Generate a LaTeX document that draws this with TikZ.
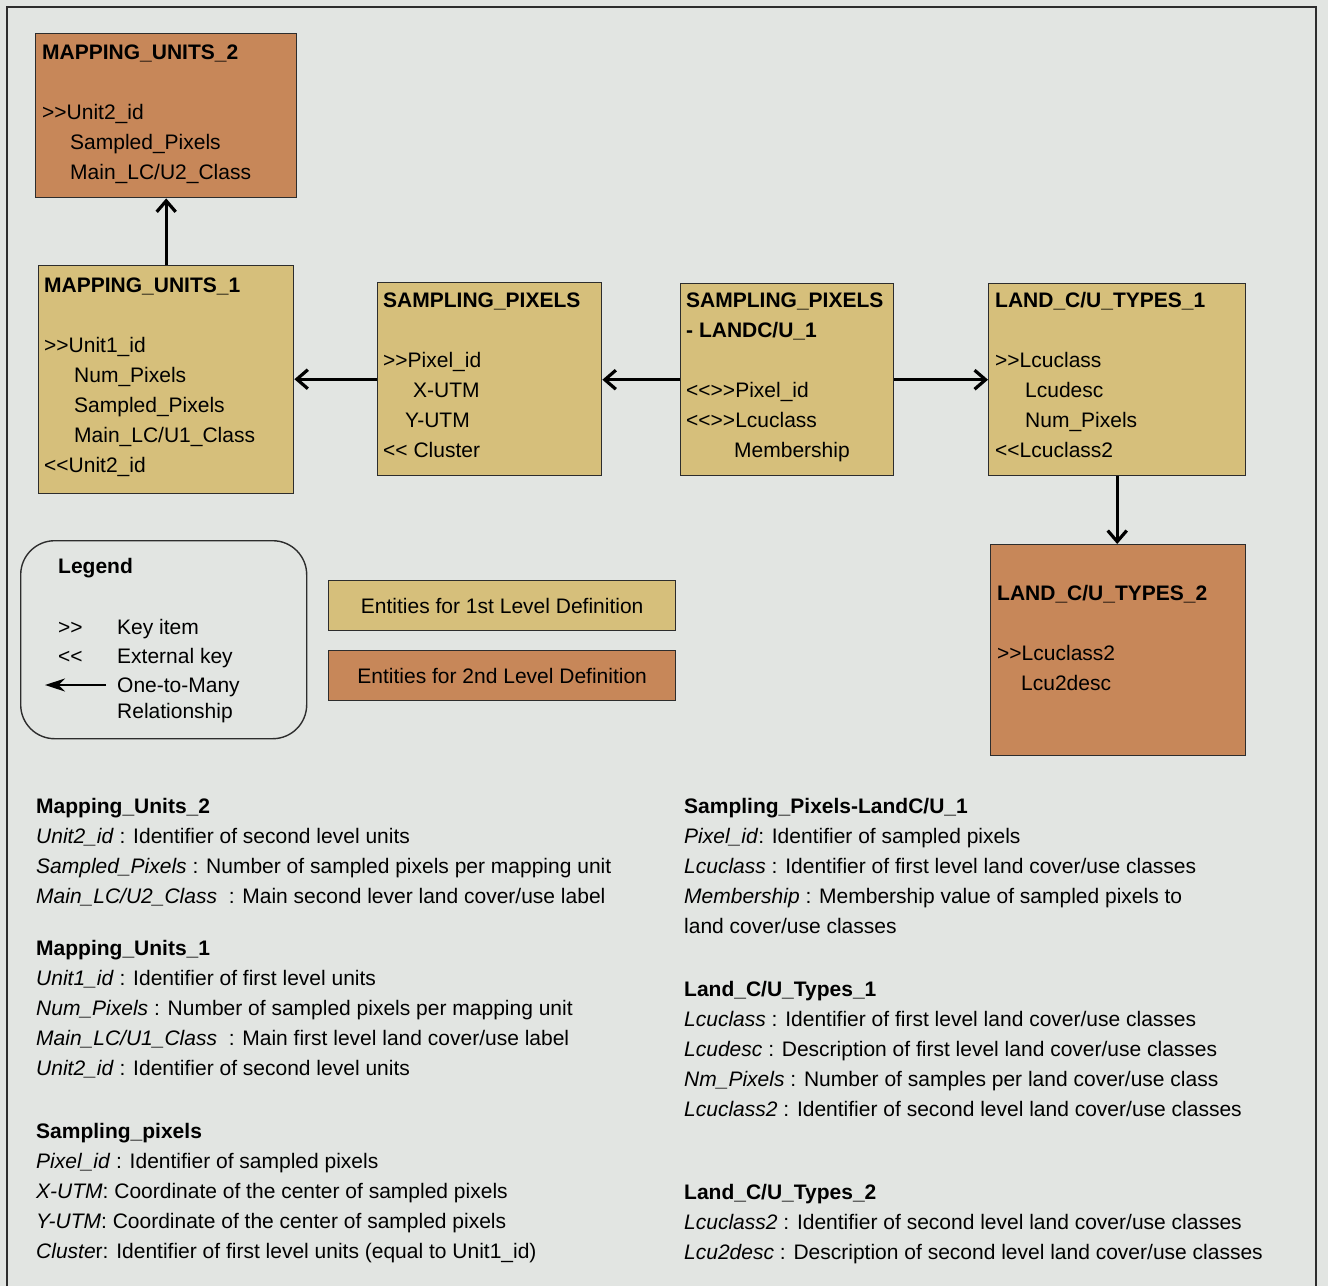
\documentclass[tikz,border=0pt]{standalone}
\usepackage{fontspec}
\setmainfont{Liberation Sans}
\usetikzlibrary{arrows.meta}
\definecolor{pagegray}{RGB}{226,229,226}
\definecolor{levelone}{RGB}{214,191,123}
\definecolor{leveltwo}{RGB}{199,135,89}
\definecolor{boxline}{RGB}{45,45,45}
\newcommand{\keyin}{>\kern0pt>}
\newcommand{\keyout}{<\kern0pt<}

\begin{document}
\begin{tikzpicture}[x=1pt,y=-1pt,
  every node/.style={inner sep=0pt},
  entity/.style={draw=boxline,line width=1.4pt,rectangle,anchor=north west},
  levone/.style={entity,fill=levelone},
  levtwo/.style={entity,fill=leveltwo},
  fields/.style={anchor=north west,align=left},
  onemany/.style={line width=3.2pt,-{Straight Barb[length=11pt,width=19pt]}}]
\fontsize{21}{30}\selectfont
\useasboundingbox (0,0) rectangle (1328,1286);
\fill[pagegray] (0,0) rectangle (1328,1286);
\draw[boxline,line width=1.4pt] (7,1286) -- (7,7) -- (1316,7) -- (1316,1286);

% entities
\node[levtwo,minimum width=261,minimum height=164] (mu2) at (35,33) {};
\node[fields] (mu2f) at (42,44.5) {\textbf{MAPPING\_UNITS\_2}\\[30pt]
\keyin Unit2\_id\\
\hspace*{28pt}Sampled\_Pixels\\
\hspace*{28pt}Main\_LC/U2\_Class};

\node[levone,minimum width=255,minimum height=228] (mu1) at (38,265) {};
\node[fields] (mu1f) at (44,277.5) {\textbf{MAPPING\_UNITS\_1}\\[30pt]
\keyin Unit1\_id\\
\hspace*{30pt}Num\_Pixels\\
\hspace*{30pt}Sampled\_Pixels\\
\hspace*{30pt}Main\_LC/U1\_Class\\
\keyout Unit2\_id};

\node[levone,minimum width=224,minimum height=193] (sp) at (377,282) {};
\node[fields] (spf) at (383,292.5) {\textbf{SAMPLING\_PIXELS}\\[30pt]
\keyin Pixel\_id\\
\hspace*{30pt}X-UTM\\
\hspace*{22pt}Y-UTM\\
\keyout\ Cluster};

\node[levone,minimum width=213,minimum height=192] (spl) at (680,283) {};
\node[fields] (splf) at (686,292.5) {\textbf{SAMPLING\_PIXELS}\\
\textbf{- LANDC/U\_1}\\[30pt]
\keyout\keyin Pixel\_id\\
\keyout\keyin Lcuclass\\
\hspace*{48pt}Membership};

\node[levone,minimum width=257,minimum height=192] (lct1) at (988,283) {};
\node[fields] (lct1f) at (995,292.5) {\textbf{LAND\_C/U\_TYPES\_1}\\[30pt]
\keyin Lcuclass\\
\hspace*{30pt}Lcudesc\\
\hspace*{30pt}Num\_Pixels\\
\keyout Lcuclass2};

\node[levtwo,minimum width=255,minimum height=211] (lct2) at (990,544) {};
\node[fields] (lct2f) at (997,585.5) {\textbf{LAND\_C/U\_TYPES\_2}\\[30pt]
\keyin Lcuclass2\\
\hspace*{24pt}Lcu2desc};

% relationships
\draw[onemany] (mu1.north) -- (mu1.north |- mu2.south);
\draw[onemany] (sp.west) -- (sp.west -| mu1.east);
\draw[onemany] (spl.west) -- (spl.west -| sp.east);
\draw[onemany] (spl.east) -- (spl.east -| lct1.west);
\draw[onemany] (lct1.south) -- (lct1.south |- lct2.north);

% legend
\node[draw=boxline,line width=1.4pt,rounded corners=34pt,minimum width=286,minimum height=198,anchor=north west] (legend) at (20,540) {};
\node[anchor=base west] (legtitle) at (58,573.5) {\textbf{Legend}};
\node[anchor=base west] (keysym) at (58,634.5) {\keyin};
\node[anchor=base west] (keytxt) at (117,634.5) {Key item};
\node[anchor=base west] (extsym) at (58,663.5) {\keyout};
\node[anchor=base west] (exttxt) at (117,663.5) {External key};
\node[anchor=base west] (reltxt) at (117,692.5) {One-to-Many};
\node[anchor=base west] (reltxtb) at (117,718.5) {Relationship};
\coordinate (reltail) at (106,685);
\coordinate (relhead) at (45,685);
\draw[line width=1.4pt,-{Stealth[length=20pt,width=13pt]}] (reltail) -- (relhead);

\node[levone,minimum width=347,minimum height=50] (lvlone) at (328,580) {Entities for 1st Level Definition};
\node[levtwo,minimum width=347,minimum height=50] (lvltwo) at (328,650) {Entities for 2nd Level Definition};

% descriptions
\node[fields] (mu2note) at (36,798.5) {\textbf{Mapping\_Units\_2}\\
\textit{Unit2\_id} : Identifier of second level units\\
\textit{Sampled\_Pixels} : Number of sampled pixels per mapping unit\\
\textit{Main\_LC/U2\_Class}\ \ : Main second lever land cover/use label};

\node[fields] (mu1note) at (36,940.5) {\textbf{Mapping\_Units\_1}\\
\textit{Unit1\_id} : Identifier of first level units\\
\textit{Num\_Pixels} : Number of sampled pixels per mapping unit\\
\textit{Main\_LC/U1\_Class}\ \ : Main first level land cover/use label\\
\textit{Unit2\_id} : Identifier of second level units};

\node[fields] (spnote) at (36,1123.5) {\textbf{Sampling\_pixels}\\
\textit{Pixel\_id} : Identifier of sampled pixels\\
\textit{X-UTM}: Coordinate of the center of sampled pixels\\
\textit{Y-UTM}: Coordinate of the center of sampled pixels\\
\textit{Cluste}r: Identifier of first level units (equal to Unit1\_id)};

\node[fields] (splnote) at (684,798.5) {\textbf{Sampling\_Pixels-LandC/U\_1}\\
\textit{Pixel\_id}: Identifier of sampled pixels\\
\textit{Lcuclass} : Identifier of first level land cover/use classes\\
\textit{Membership} : Membership value of sampled pixels to\\
land cover/use classes};

\node[fields] (lct1note) at (684,981.5) {\textbf{Land\_C/U\_Types\_1}\\
\textit{Lcuclass} : Identifier of first level land cover/use classes\\
\textit{Lcudesc} : Description of first level land cover/use classes\\
\textit{Nm\_Pixels} : Number of samples per land cover/use class\\
\textit{Lcuclass2} : Identifier of second level land cover/use classes};

\node[fields] (lct2note) at (684,1184.5) {\textbf{Land\_C/U\_Types\_2}\\
\textit{Lcuclass2} : Identifier of second level land cover/use classes\\
\textit{Lcu2desc} : Description of second level land cover/use classes};
\end{tikzpicture}
\end{document}
